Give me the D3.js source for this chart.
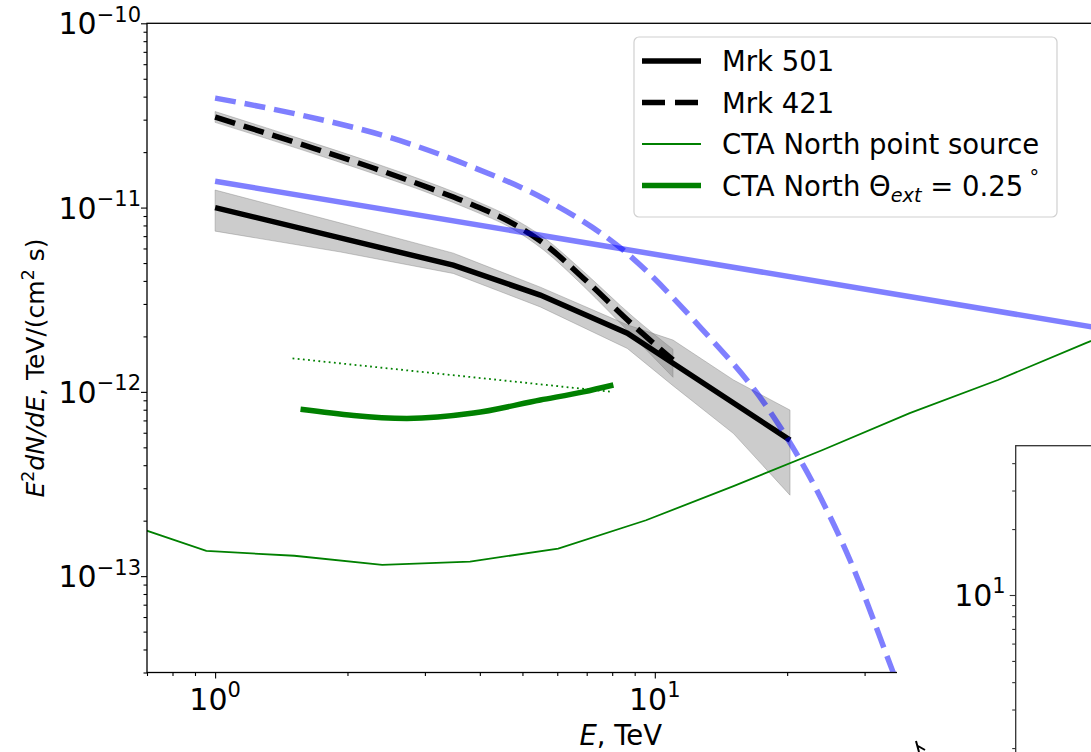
<!DOCTYPE html>
<html>
<head>
<meta charset="utf-8">
<script src="https://cdn.jsdelivr.net/npm/d3@7"></script>
<style>
  body { margin: 0; background: #fff; }
  svg { display: block; }
  text { font-family: "DejaVu Sans", sans-serif; fill: #000; }
</style>
</head>
<body>
<svg id="chart" width="1091" height="752"></svg>
<script>
// Energies in TeV, fluxes as E^2 dN/dE in TeV/(cm^2 s)

// Mrk 501 measured spectrum and its uncertainty band
const mrk501E      = [1, 2, 3.48, 5.49, 8.66, 11.0, 20.3];
const mrk501Flux   = [1.0e-11, 6.7e-12, 4.87e-12, 3.35e-12, 2.08e-12, 1.43e-12, 5.47e-13];
const mrk501BandE  = [1, 1.93, 3.48, 5.49, 8.66, 11.0, 15.1, 20.3];
const mrk501Upper  = [1.245e-11, 8.24e-12, 5.66e-12, 3.7e-12, 2.31e-12, 1.91e-12, 1.16e-12, 7.96e-13];
const mrk501Lower  = [7.45e-12, 5.74e-12, 4.39e-12, 2.89e-12, 1.72e-12, 1.08e-12, 5.94e-13, 2.75e-13];

// Mrk 421 spectrum and its uncertainty band
const mrk421E      = [1, 1.564, 2.29, 3.09, 3.87, 4.69, 5.58, 6.88, 8.93, 11.0];
const mrk421Flux   = [3.10e-11, 2.21e-11, 1.64e-11, 1.27e-11, 1.03e-11, 8.34e-12, 6.41e-12, 4.14e-12, 2.30e-12, 1.49e-12];
const mrk421Upper  = [3.32e-11, 2.36e-11, 1.75e-11, 1.36e-11, 1.10e-11, 8.9e-12, 6.9e-12, 4.5e-12, 2.55e-12, 1.7e-12];
const mrk421Lower  = [2.90e-11, 2.07e-11, 1.53e-11, 1.19e-11, 9.6e-12, 7.8e-12, 5.9e-12, 3.75e-12, 2.0e-12, 1.2e-12];

// Model spectra (blue): pure power law and power law with cutoff
const powerLawE    = [1, 100];
const powerLawFlux = [1.39e-11, 2.24e-12];
const cutoffE      = [1, 1.564, 2.5, 3.8, 5.58, 8.48, 12.69, 18.0, 23.8, 27.8, 34.7, 40];
const cutoffFlux   = [3.93e-11, 3.18e-11, 2.4e-11, 1.68e-11, 1.12e-11, 5.87e-12, 2.24e-12, 8.26e-13, 2.68e-13, 1.22e-13, 3.08e-14, 1.26e-14];

// CTA North sensitivity: point source and extended source
const ctaPointE    = [0.603, 0.955, 1.514, 2.399, 3.80, 6.03, 9.55, 15.1, 24.0, 38.0, 60.3, 95.5, 151];
const ctaPointFlux = [1.99e-13, 1.37e-13, 1.29e-13, 1.15e-13, 1.20e-13, 1.41e-13, 2.01e-13, 3.08e-13, 4.82e-13, 7.66e-13, 1.16e-12, 1.84e-12, 2.8e-12];
const ctaExtE      = [1.564, 2.73, 3.87, 5.49, 6.88, 8.05];
const ctaExtFlux   = [8.05e-13, 7.18e-13, 7.67e-13, 9.03e-13, 1.0e-12, 1.09e-12];
const refLineE     = [1.5, 8.0];
const refLineFlux  = [1.52e-12, 1.0e-12];

// Axis ticks
const xMajorTicks  = [1, 10];
const xTickExp     = ["0", "1"];
const yMajorTicks  = [1e-10, 1e-11, 1e-12, 1e-13];
const yTickExp     = ["\u221210", "\u221211", "\u221212", "\u221213"];
const insetMajor   = [10];
const insetTickExp = ["1"];

const legendLabels = ["Mrk 501", "Mrk 421", "CTA North point source", "CTA North"];

// ---------------------------------------------------------------
const svg = d3.select("#chart");
const W = 1091, H = 752;
const X0 = 147, X1 = 1094.5, Y0 = 23.3, Y1 = 672.5;
const FS = 27.5;      // legend / axis title size
const TFS = 30;       // tick label size
const LFS = 25;       // y title size

svg.append("rect").attr("width", W).attr("height", H).attr("fill", "#fff");

const x = d3.scaleLog().domain([0.7, 100]).range([X0, X1]);
const y = d3.scaleLog().domain([3e-14, 1e-10]).range([Y1, Y0]);

svg.append("defs").append("clipPath").attr("id", "plotClip")
  .append("rect").attr("x", X0).attr("y", Y0).attr("width", X1 - X0).attr("height", Y1 - Y0);

const plot = svg.append("g").attr("clip-path", "url(#plotClip)");

const zip = (es, vs) => es.map((e, i) => [e, vs[i]]);
const line = d3.line().x(d => x(d[0])).y(d => y(d[1]));
const smooth = d3.line().x(d => x(d[0])).y(d => y(d[1])).curve(d3.curveMonotoneX);
const band = d3.area().x(d => x(d[0])).y0(d => y(d[1])).y1(d => y(d[2]));

// uncertainty bands
plot.append("path")
  .attr("d", band(mrk501BandE.map((e, i) => [e, mrk501Lower[i], mrk501Upper[i]])))
  .attr("fill", "gray").attr("fill-opacity", 0.4)
  .attr("stroke", "gray").attr("stroke-opacity", 0.4).attr("stroke-width", 1);
plot.append("path")
  .attr("d", band.curve(d3.curveMonotoneX)(mrk421E.map((e, i) => [e, mrk421Lower[i], mrk421Upper[i]])))
  .attr("fill", "gray").attr("fill-opacity", 0.4)
  .attr("stroke", "gray").attr("stroke-opacity", 0.4).attr("stroke-width", 1);

// sources
plot.append("path").attr("d", line(zip(mrk501E, mrk501Flux)))
  .attr("fill", "none").attr("stroke", "#000").attr("stroke-width", 5.5);
plot.append("path").attr("d", smooth(zip(mrk421E, mrk421Flux)))
  .attr("fill", "none").attr("stroke", "#000").attr("stroke-width", 5.5)
  .attr("stroke-dasharray", "21,9");

// sensitivities
plot.append("path").attr("d", line(zip(ctaPointE, ctaPointFlux)))
  .attr("fill", "none").attr("stroke", "green").attr("stroke-width", 1.8);
plot.append("path").attr("d", smooth(zip(ctaExtE, ctaExtFlux)))
  .attr("fill", "none").attr("stroke", "green").attr("stroke-width", 5.5);
plot.append("path").attr("d", line(zip(refLineE, refLineFlux)))
  .attr("fill", "none").attr("stroke", "green").attr("stroke-width", 1.8)
  .attr("stroke-dasharray", "1.8,3.4");

// model spectra
plot.append("path").attr("d", line(zip(powerLawE, powerLawFlux)))
  .attr("fill", "none").attr("stroke", "blue").attr("stroke-opacity", 0.5).attr("stroke-width", 5.5);
plot.append("path").attr("d", smooth(zip(cutoffE, cutoffFlux)))
  .attr("fill", "none").attr("stroke", "blue").attr("stroke-opacity", 0.5).attr("stroke-width", 5.5)
  .attr("stroke-dasharray", "21,9");

// ---------------- axes ----------------
const minorTicks = (scale) => {
  const [a, b] = scale.domain().slice().sort((p, q) => p - q);
  const out = [];
  for (let k = Math.floor(Math.log10(a)); k <= Math.ceil(Math.log10(b)); k++) {
    for (let m = 2; m <= 9; m++) {
      const v = m * Math.pow(10, k);
      if (v >= a * 0.999 && v <= b * 1.001) out.push(v);
    }
  }
  return out;
};

const axes = svg.append("g");
const xAxisMinor = d3.axisBottom(x).tickValues(minorTicks(x)).tickSize(3.5).tickFormat("");
const xAxisMajor = d3.axisBottom(x).tickValues(xMajorTicks).tickSize(6).tickFormat("");
const yAxisMinor = d3.axisLeft(y).tickValues(minorTicks(y)).tickSize(3.5).tickFormat("");
const yAxisMajor = d3.axisLeft(y).tickValues(yMajorTicks).tickSize(6).tickFormat("");
[xAxisMinor, xAxisMajor].forEach(ax => axes.append("g").attr("transform", `translate(0,${Y1})`).call(ax));
[yAxisMinor, yAxisMajor].forEach(ax => axes.append("g").attr("transform", `translate(${X0},0)`).call(ax));
axes.selectAll(".domain").remove();
axes.selectAll(".tick line").attr("stroke", "#000").attr("stroke-width", 1.1);

// spines
axes.append("rect").attr("x", X0).attr("y", Y0).attr("width", X1 - X0).attr("height", Y1 - Y0)
  .attr("fill", "none").attr("stroke", "#000").attr("stroke-width", 1.3);

// power-of-ten tick labels
function powLabel(g, base, exp, px, py, anchor, size) {
  const t = g.append("text").attr("x", px).attr("y", py).attr("text-anchor", anchor)
    .attr("font-size", size);
  t.append("tspan").text(base);
  t.append("tspan").attr("font-size", size * 0.7).attr("dy", -size * 0.42).text(exp);
  return t;
}
xMajorTicks.forEach((v, i) => powLabel(axes, "10", xTickExp[i], x(v), Y1 + 37, "middle", TFS));
yMajorTicks.forEach((v, i) => powLabel(axes, "10", yTickExp[i], X0 - 6, y(v) + 11, "end", TFS));

// axis titles
const xt = axes.append("text").attr("x", (X0 + X1) / 2).attr("y", Y1 + 72)
  .attr("text-anchor", "middle").attr("font-size", FS);
xt.append("tspan").attr("font-style", "italic").text("E");
xt.append("tspan").text(", TeV");

const yt = axes.append("text").attr("transform", `translate(44,368) rotate(-90)`)
  .attr("text-anchor", "middle").attr("font-size", LFS);
yt.append("tspan").attr("font-style", "italic").text("E");
yt.append("tspan").attr("font-size", LFS * 0.7).attr("dy", -LFS * 0.42).text("2");
yt.append("tspan").attr("font-style", "italic").attr("dy", LFS * 0.42).text("dN/dE");
yt.append("tspan").text(", TeV/(cm");
yt.append("tspan").attr("font-size", LFS * 0.7).attr("dy", -LFS * 0.42).text("2");
yt.append("tspan").attr("dy", LFS * 0.42).text(" s)");

// ---------------- legend ----------------
const lg = svg.append("g");
lg.append("rect").attr("x", 634).attr("y", 37).attr("width", 423).attr("height", 180).attr("rx", 5)
  .attr("fill", "#fff").attr("fill-opacity", 0.85).attr("stroke", "#d0d0d0").attr("stroke-width", 1.2);
const legendStyles = [
  { color: "#000", width: 5.5, dash: null },
  { color: "#000", width: 5.5, dash: "23,10" },
  { color: "green", width: 1.8, dash: null },
  { color: "green", width: 5.5, dash: null }
];
legendLabels.forEach((label, i) => {
  const cy = 61 + i * 41.5;
  const s = legendStyles[i];
  lg.append("line").attr("x1", 642).attr("x2", 701).attr("y1", cy).attr("y2", cy)
    .attr("stroke", s.color).attr("stroke-width", s.width).attr("stroke-dasharray", s.dash);
  const t = lg.append("text").attr("x", 722).attr("y", cy + 10).attr("font-size", FS);
  t.append("tspan").text(label);
  if (i === 3) {
    t.append("tspan").text(" \u0398");
    t.append("tspan").attr("font-style", "italic").attr("font-size", FS * 0.7).attr("dy", FS * 0.22).text("ext");
    t.append("tspan").attr("dy", -FS * 0.22).text(" = 0.25");
    t.append("tspan").attr("font-size", FS * 0.7).attr("dy", -FS * 0.42).text(" \u00b0");
  }
});

// ---------------- neighbouring panel ----------------
svg.append("rect").attr("x", 897).attr("y", 432).attr("width", W - 897).attr("height", H - 432).attr("fill", "#fff");

const IX = 1015.7, IY = 445.7, insetDecade = 219;
const insetTop = 48, insetBottom = 1.5;
const yi = d3.scaleLog().domain([insetBottom, insetTop])
  .range([595 + insetDecade * Math.log10(10 / insetBottom), 595 - insetDecade * Math.log10(insetTop / 10)]);
const inset = svg.append("g");
inset.append("rect").attr("x", IX).attr("y", IY).attr("width", 300).attr("height", 400)
  .attr("fill", "#fff").attr("stroke", "#333").attr("stroke-width", 1.3);
const insetAxes = inset.append("g").attr("transform", `translate(${IX},0)`);
insetAxes.append("g").call(d3.axisLeft(yi).tickValues(minorTicks(yi)).tickSize(3.5).tickFormat(""));
insetAxes.append("g").call(d3.axisLeft(yi).tickValues(insetMajor).tickSize(6).tickFormat(""));
insetAxes.selectAll(".domain").remove();
insetAxes.selectAll(".tick line").attr("stroke", "#333").attr("stroke-width", 1.1);
insetMajor.forEach((v, i) => powLabel(inset, "10", insetTickExp[i], IX - 10, yi(v) + 11, "end", TFS));

// tip of an arrow from the neighbouring panel
svg.append("path").attr("d", "M916,741 L919,752 M918,746 L925,750")
  .attr("stroke", "#000").attr("stroke-width", 2).attr("fill", "none");
</script>
</body>
</html>
